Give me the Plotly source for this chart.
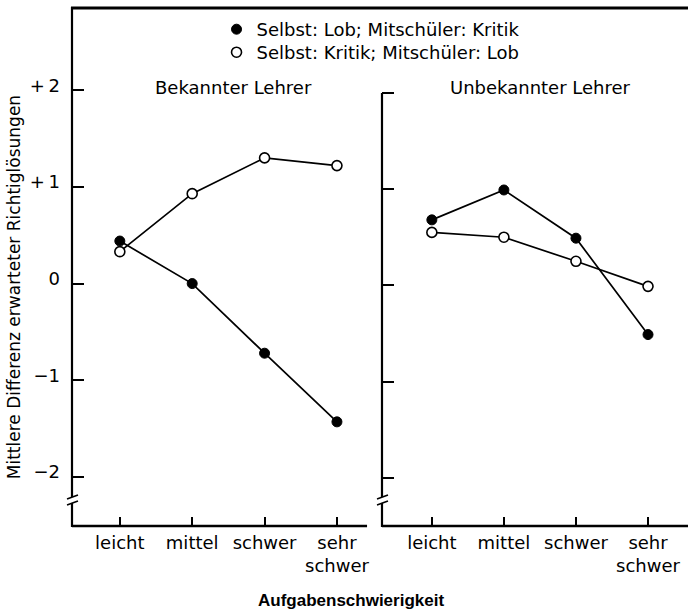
import plotly.graph_objects as go

# ---- data ----
categories = ["leicht", "mittel", "schwer", "sehr schwer"]
tick_text = ["leicht", "mittel", "schwer", "sehr<br>schwer"]
series_names = ["Selbst: Lob; Mitschüler: Kritik", "Selbst: Kritik; Mitschüler: Lob"]

bekannt_lob = [0.44, 0.00, -0.72, -1.43]
bekannt_kritik = [0.33, 0.93, 1.30, 1.22]
unbekannt_lob = [0.68, 0.99, 0.49, -0.51]
unbekannt_kritik = [0.55, 0.50, 0.25, -0.01]

y_tickvals = [2, 1, 0, -1, -2]
y_ticktext = ["+\u20092", "+\u20091", "0", "\u22121", "\u22122"]

panel_titles = ["Bekannter Lehrer", "Unbekannter Lehrer"]
x_title = "Aufgabenschwierigkeit"
y_title = "Mittlere Differenz erwarteter Richtiglösungen"

# ---- layout helpers (pixel -> paper) ----
W, H = 690, 613
L, T, R, B = 72, 8, 690, 526


def px(x):
    return (x - L) / (R - L)


def py(y):
    return (B - y) / (B - T)


FONT = "DejaVu Sans, Verdana, sans-serif"
BOLDFONT = "Liberation Sans, Arial, Helvetica, sans-serif"
line_style = dict(color="black", width=1.7)
filled = dict(symbol="circle", size=10, color="black", line=dict(color="black", width=1))
hollow = dict(symbol="circle", size=10, color="white", line=dict(color="black", width=1.6))

fig = go.Figure()
fig.add_trace(go.Scatter(x=categories, y=bekannt_lob, mode="lines+markers", line=line_style,
                         marker=filled, xaxis="x", yaxis="y", showlegend=False))
fig.add_trace(go.Scatter(x=categories, y=bekannt_kritik, mode="lines+markers", line=line_style,
                         marker=hollow, xaxis="x", yaxis="y", showlegend=False))
fig.add_trace(go.Scatter(x=categories, y=unbekannt_lob, mode="lines+markers", line=line_style,
                         marker=filled, xaxis="x2", yaxis="y2", showlegend=False))
fig.add_trace(go.Scatter(x=categories, y=unbekannt_kritik, mode="lines+markers", line=line_style,
                         marker=hollow, xaxis="x2", yaxis="y2", showlegend=False))
# legend entries (markers only)
fig.add_trace(go.Scatter(x=[None], y=[None], mode="markers", marker=filled, name=series_names[0],
                         xaxis="x", yaxis="y", legend="legend"))
fig.add_trace(go.Scatter(x=[None], y=[None], mode="markers", marker=hollow, name=series_names[1],
                         xaxis="x", yaxis="y", legend="legend2"))

tickfont = dict(family=FONT, size=18, color="black")
xcommon = dict(type="category", categoryorder="array", categoryarray=categories,
               tickmode="array", tickvals=categories, ticktext=tick_text,
               ticks="inside", ticklen=9, tickwidth=2, tickcolor="black",
               ticklabelstandoff=4,
               showline=False, showgrid=False, zeroline=False, tickfont=tickfont,
               fixedrange=True)

shapes = []


def seg(x0, y0, x1, y1, w):
    shapes.append(dict(type="line", xref="paper", yref="paper",
                       x0=px(x0), y0=py(y0), x1=px(x1), y1=py(y1),
                       line=dict(color="black", width=w)))


# frame / axis lines
seg(71, 8, 690, 8, 3)
seg(72, 7, 72, 497, 2.2)
seg(72, 503, 72, 527, 2.2)
seg(72, 526, 368, 526, 2.6)
seg(383, 93, 383, 497, 2.2)
seg(383, 503, 383, 527, 2.2)
seg(383, 526, 690, 526, 2.6)
# axis breaks
for ax in (72, 383):
    seg(ax - 5, 499, ax + 6, 495, 1.6)
    seg(ax - 5, 505, ax + 6, 501, 1.6)

annotations = [
    dict(text=panel_titles[0], x=px(234), y=py(87), xref="paper", yref="paper",
         showarrow=False, font=dict(family=FONT, size=18, color="black"),
         xanchor="center", yanchor="middle"),
    dict(text=panel_titles[1], x=px(542), y=py(87), xref="paper", yref="paper",
         showarrow=False, font=dict(family=FONT, size=18, color="black"),
         xanchor="center", yanchor="middle"),
    dict(text="<b>" + x_title + "</b>", x=px(352), y=py(600), xref="paper", yref="paper",
         showarrow=False, font=dict(family=BOLDFONT, size=17, color="black"),
         xanchor="center", yanchor="middle"),
    dict(text=y_title, x=px(14), y=py(287), xref="paper", yref="paper",
         showarrow=False, textangle=-90, font=dict(family=FONT, size=17, color="black"),
         xanchor="center", yanchor="middle"),
]

legend_common = dict(xanchor="left", yanchor="top", xref="paper", yref="paper",
                     bgcolor="rgba(0,0,0,0)", borderwidth=0,
                     font=dict(family=FONT, size=18, color="black"), itemsizing="trace")

fig.update_layout(
    width=W, height=H,
    margin=dict(l=L, r=W - R, t=T, b=H - B, pad=0),
    paper_bgcolor="white", plot_bgcolor="white",
    font=dict(family=FONT, size=18, color="black"),
    xaxis=dict(domain=[0, px(368)], range=[-0.661, 3.416], anchor="y", **xcommon),
    xaxis2=dict(domain=[px(383), 1], range=[-0.692, 3.555], anchor="y2", **xcommon),
    yaxis=dict(domain=[0, 1], range=[-2.507, 2.850], anchor="x",
               tickmode="array", tickvals=y_tickvals, ticktext=y_ticktext,
               ticks="inside", ticklen=12, tickwidth=1.6, tickcolor="black",
               ticklabelstandoff=11, ticklabelshift=-5,
               showline=False, showgrid=False, zeroline=False, tickfont=tickfont, fixedrange=True),
    yaxis2=dict(domain=[0, 1], range=[-2.496, 2.878], anchor="x2",
                tickmode="array", tickvals=y_tickvals, ticktext=y_ticktext, showticklabels=False,
                ticks="inside", ticklen=12, tickwidth=1.6, tickcolor="black",
                showline=False, showgrid=False, zeroline=False, fixedrange=True),
    legend=dict(x=px(217), y=py(11), **legend_common),
    legend2=dict(x=px(217), y=py(34), **legend_common),
    shapes=shapes,
    annotations=annotations,
)

fig.write_html("out.html", config={"displayModeBar": False},
               post_script="document.body.style.margin='0';")
